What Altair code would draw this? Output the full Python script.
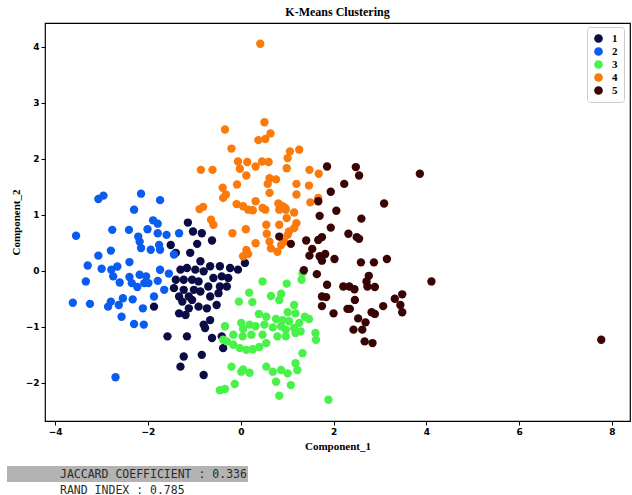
import altair as alt
import pandas as pd

# ---- data ----
c1_x = [-1.14, -1.03, -0.84, -0.62, -0.94, -1.51, -1.40, -1.09, -0.87, -0.66, -0.45, -0.23, -0.06, 0.09,
        -1.30, -1.16, -0.98, -0.80, -0.59, -0.41, -0.27, -1.40, -1.23, -1.05, -0.91, -0.70, -0.45, -0.30,
        -1.44, -1.23, -1.01, -0.87, -1.33, -1.12, -0.66, -0.48, -1.26, -1.05, -0.91, -0.73, -0.52, -1.12,
        -1.33, -1.19, -1.87, -0.80, -0.66, -0.77, -0.62, -0.41, -0.38, -1.58, -1.16, -0.84, -1.23, -1.30, -0.80]
c1_y = [0.86, 0.70, 0.67, 0.54, 0.48, 0.46, 0.32, 0.32, 0.17, 0.08, 0.08, 0.05, 0.02, 0.14,
        0.02, 0.05, 0.02, -0.01, -0.13, -0.10, -0.13, -0.16, -0.16, -0.16, -0.19, -0.28, -0.28, -0.28,
        -0.31, -0.34, -0.34, -0.37, -0.46, -0.46, -0.46, -0.40, -0.55, -0.52, -0.64, -0.67, -0.61, -0.67,
        -0.76, -0.79, -0.64, -0.96, -0.88, -1.02, -1.20, -1.17, -1.38, -1.17, -1.17, -1.50, -1.53, -1.71, -1.86]

c2_x = [-3.07, -2.96, -2.15, -1.74, -2.30, -3.55, -2.77, -2.41, -2.21, -2.18, -2.01, -1.89, -1.79, -1.79,
        -1.60, -2.15, -1.94, -1.76, -1.74, -2.80, -3.07, -3.30, -3.00, -2.79, -2.66, -2.40, -2.75, -2.61,
        -2.40, -2.35, -2.23, -2.18, -2.04, -2.08, -1.99, -1.79, -1.74, -1.65, -1.87, -1.55, -3.34, -3.62,
        -3.25, -2.86, -2.80, -2.63, -2.54, -2.33, -2.11, -2.57, -2.30, -2.09, -2.70, -1.44, -1.33]
c2_y = [1.28, 1.34, 1.375, 1.26, 1.09, 0.625, 0.73, 0.73, 0.61, 0.52, 0.74, 0.90, 0.84, 0.67,
        0.64, 0.405, 0.375, 0.46, 0.375, 0.36, 0.27, 0.095, 0.036, 0.018, 0.077, 0.155, -0.10, -0.21,
        -0.11, -0.22, -0.29, -0.07, -0.10, -0.22, -0.22, -0.18, 0.018, -0.34, -0.46, -0.05, -0.19, -0.57,
        -0.59, -0.64, -0.55, -0.61, -0.49, -0.51, -0.67, -0.82, -0.95, -0.96, -1.90, 0.29, 0.67]

c3_x = [0.47, 0.99, 1.31, 1.33, 0.18, -0.04, 0.25, 0.65, 0.87, 0.83, 1.15, 1.01, 1.18, 1.38, 1.47,
        0.39, 0.55, 0.76, 0.90, 1.04, 1.26, 0.01, 0.19, 0.32, 0.51, 0.69, 0.87, 0.97, 1.15, 1.29,
        -0.34, 0.05, -0.16, 0.04, 0.23, 0.47, -0.30, -0.16, -0.02, 0.12, 0.26, 0.40, 0.55, 0.79, 0.97,
        1.18, 1.61, 1.62, 1.33, -0.38, -0.20, 0.05, 0.19, 0.01, 0.55, 0.69, 0.87, 1.01, 1.18, 1.22,
        0.76, 1.08, -0.13, -0.45, -0.34, 0.83, 1.89]
c3_y = [-0.19, -0.23, -0.16, -0.04, -0.39, -0.55, -0.56, -0.45, -0.41, -0.52, -0.61, -0.74, -0.76, -0.82, -0.86,
        -0.77, -0.82, -0.86, -0.88, -0.90, -0.93, -0.93, -0.96, -0.99, -0.96, -1.01, -0.99, -1.05, -1.02, -1.08,
        -0.99, -1.04, -1.14, -1.17, -1.14, -1.14, -1.26, -1.32, -1.38, -1.41, -1.40, -1.36, -1.29, -1.17, -1.17,
        -1.11, -1.11, -1.23, -1.47, -1.23, -1.71, -1.76, -1.82, -1.80, -1.71, -1.80, -1.77, -1.83, -1.65, -1.77,
        -1.98, -2.04, -2.02, -2.13, -2.11, -2.23, -2.30]

c4_x = [0.42, 0.51, -0.34, 0.64, 0.53, 0.38, -0.20, 1.06, 1.26, 1.01, -0.06, 0.14, 0.46, 0.60, 0.32,
        -0.02, -0.86, -0.61, 0.99, 1.48, 1.68, 0.12, 0.62, 0.76, 0.58, 1.20, -0.08, 1.47, 0.62, -0.39,
        -0.32, -0.38, 1.20, 0.32, -0.09, 0.05, 0.16, 0.26, 0.47, 0.53, 0.81, 0.83, 0.96, 1.15, 1.50,
        -0.81, -0.89, -0.64, -0.59, 0.99, 1.20, 1.15, 0.55, 0.83, -0.18, 0.11, 0.56, 1.04, 0.32, 0.62,
        0.94, 1.01, 0.12, 0.16, 0.05, 0.65, 0.79, 1.67, 0.90, 0.97, 0.87]
c4_y = [4.05, 2.65, 2.52, 2.45, 2.35, 2.33, 2.18, 2.13, 2.16, 2.01, 1.95, 1.94, 1.95, 1.94, 1.86,
        1.82, 1.80, 1.80, 1.83, 1.80, 1.73, 1.70, 1.65, 1.63, 1.55, 1.55, 1.54, 1.52, 1.39, 1.48,
        1.36, 1.30, 1.36, 1.24, 1.19, 1.15, 1.09, 1.08, 1.12, 1.09, 1.20, 1.09, 1.12, 1.04, 1.22,
        1.14, 1.10, 0.91, 0.82, 0.94, 0.85, 0.76, 0.82, 0.82, 0.67, 0.74, 0.66, 0.70, 0.49, 0.52,
        0.52, 0.64, 0.37, 0.30, 0.26, 0.40, 0.34, 1.30, 1.15, 1.09, 0.46]

c5_x = [1.86, 2.48, 2.55, 3.86, 2.23, 1.94, 1.67, 3.09, 2.06, 1.70, 2.60, 1.94, 2.32, 2.50, 2.55,
        1.67, 1.75, 1.41, 1.08, 0.83, 1.54, 1.48, 1.70, 1.82, 1.75, 2.02, 2.59, 2.87, 3.15, 1.36,
        1.64, 2.76, 4.11, 1.86, 2.21, 2.34, 2.45, 2.71, 2.73, 2.89, 1.75, 1.84, 2.46, 3.32, 3.48,
        1.75, 2.30, 2.35, 3.07, 3.44, 3.48, 2.00, 2.82, 2.89, 2.53, 2.69, 2.43, 2.62, 2.67, 2.84, 7.77]
c5_y = [1.86, 1.85, 1.70, 1.73, 1.55, 1.41, 1.24, 1.20, 1.07, 0.98, 0.93, 0.77, 0.66, 0.60, 0.57,
        0.55, 0.60, 0.54, 0.48, 0.61, 0.39, 0.27, 0.26, 0.30, 0.18, 0.21, 0.15, 0.15, 0.21, 0.01,
        -0.06, -0.09, -0.19, -0.25, -0.28, -0.28, -0.33, -0.19, -0.28, -0.29, -0.46, -0.47, -0.52, -0.50, -0.42,
        -0.63, -0.68, -0.68, -0.63, -0.61, -0.74, -0.76, -0.74, -0.77, -0.85, -0.92, -1.05, -1.05, -1.26, -1.29, -1.23]

clusters = ["1", "2", "3", "4", "5"]
colors = ["#0b0b45", "#0a5cf0", "#48f248", "#fa7a0c", "#3a0404"]
x_ticks = [-4, -2, 0, 2, 4, 6, 8]
y_ticks = [-2, -1, 0, 1, 2, 3, 4]
metric_lines = ["JACCARD COEFFICIENT : 0.336", "RAND INDEX : 0.785"]

rows = []
for lab, xs, ys in zip(clusters, [c1_x, c2_x, c3_x, c4_x, c5_x], [c1_y, c2_y, c3_y, c4_y, c5_y]):
    for a, b in zip(xs, ys):
        rows.append({"Component_1": a, "Component_2": b, "cluster": lab})
df = pd.DataFrame(rows)

W, H = 585, 398

points = alt.Chart(df).mark_circle(size=70, opacity=1).encode(
    x=alt.X("Component_1:Q",
            scale=alt.Scale(domain=[-4.22, 8.39], nice=False, zero=False),
            axis=alt.Axis(values=x_ticks, title="Component_1", titlePadding=4)),
    y=alt.Y("Component_2:Q",
            scale=alt.Scale(domain=[-2.68, 4.42], nice=False, zero=False),
            axis=alt.Axis(values=y_ticks, title="Component_2", titlePadding=4)),
    color=alt.Color("cluster:N",
                    scale=alt.Scale(domain=clusters, range=colors),
                    legend=alt.Legend(title=None, orient="none", legendX=542, legendY=4,
                                      fillColor="white", strokeColor="#cccccc", padding=6,
                                      cornerRadius=3, symbolSize=75, symbolType="circle",
                                      labelFont="Liberation Serif", labelFontWeight="bold",
                                      labelFontSize=11, labelColor="black", rowPadding=1,
                                      labelOffset=8)),
)

box_df = pd.DataFrame({"k": [0]})
box = alt.Chart(box_df).mark_rect(color="#b3b3b3").encode(
    x=alt.value(-38), x2=alt.value(203), y=alt.value(443), y2=alt.value(459)
)

txt_df = pd.DataFrame({"line": metric_lines, "row": [0, 1]})
txt1 = alt.Chart(txt_df.iloc[[0]]).mark_text(
    align="left", baseline="middle", font="DejaVu Sans Mono", fontSize=11.5, color="#2b2b2b"
).encode(x=alt.value(15), y=alt.value(451.5), text="line:N")
txt2 = alt.Chart(txt_df.iloc[[1]]).mark_text(
    align="left", baseline="middle", font="DejaVu Sans Mono", fontSize=11.5, color="#2b2b2b"
).encode(x=alt.value(15), y=alt.value(467.5), text="line:N")

chart = alt.layer(points, box, txt1, txt2).properties(
    width=W, height=H,
    title=alt.TitleParams("K-Means Clustering", font="Liberation Serif", fontSize=12,
                          fontWeight="bold", anchor="middle", offset=4, color="black"),
    padding={"left": 45, "top": 23, "right": 2, "bottom": 74},
    autosize=alt.AutoSizeParams(type="none"),
).configure_view(
    stroke="black", strokeWidth=1.2
).configure_axis(
    grid=False, domain=False, tickColor="black", tickSize=4, tickWidth=1,
    labelFont="DejaVu Sans", labelFontSize=9, labelFontWeight="bold", labelColor="black",
    labelPadding=2, titleFont="Liberation Serif", titleFontSize=11, titleFontWeight="bold",
    titleColor="black"
)

chart.save("out.html", embed_options={"renderer": "svg", "actions": False})
